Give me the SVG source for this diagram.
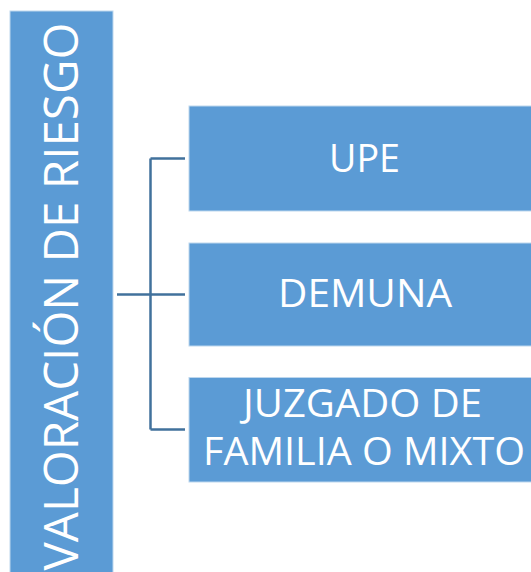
<svg xmlns="http://www.w3.org/2000/svg" width="531" height="572" viewBox="0 0 531 572">
<style>
.box{fill:#5B9BD5;stroke:#BDD7EE;stroke-width:1}
.lbl{font-family:"Open Sans","Liberation Sans",sans-serif;fill:#FFFFFF;text-anchor:middle}
.con{fill:none;stroke:#41719C;stroke-width:2.5}
</style>
<rect x="0" y="0" width="531" height="572" fill="#FFFFFF"/>
<g id="node-root">
<rect class="box" x="10" y="11" width="103" height="570"/>
<text class="lbl" font-size="48" transform="translate(78,296.5) rotate(-90)" textLength="548" lengthAdjust="spacingAndGlyphs">VALORACIÓN DE RIESGO</text>
</g>
<g id="connectors">
<path class="con" d="M150.5,158.5 V429.5 M150.5,158.5 H185 M117,294.5 H185 M150.5,429.5 H185"/>
</g>
<g id="node-upe">
<rect class="box" x="189" y="106" width="352" height="105"/>
<text class="lbl" font-size="39" x="364.5" y="172" textLength="71" lengthAdjust="spacingAndGlyphs">UPE</text>
</g>
<g id="node-demuna">
<rect class="box" x="189" y="243" width="352" height="103"/>
<text class="lbl" font-size="38.5" x="365" y="307" textLength="174" lengthAdjust="spacingAndGlyphs">DEMUNA</text>
</g>
<g id="node-juzgado">
<rect class="box" x="189" y="377.5" width="352" height="104.5"/>
<text class="lbl" font-size="38.5" x="362.5" y="417" textLength="239" lengthAdjust="spacingAndGlyphs">JUZGADO DE</text>
<text class="lbl" font-size="38.5" x="364" y="465" textLength="322" lengthAdjust="spacingAndGlyphs">FAMILIA O MIXTO</text>
</g>
</svg>
